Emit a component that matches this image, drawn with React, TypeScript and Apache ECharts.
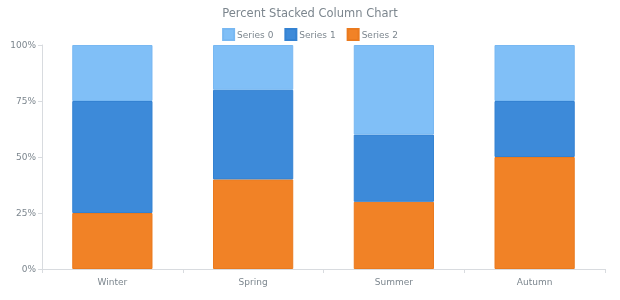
import React, { useEffect, useRef } from "react";
import * as echarts from "echarts";

const categories = ["Winter", "Spring", "Summer", "Autumn"];
const series0 = [25, 20, 40, 25];
const series1 = [50, 40, 30, 25];
const series2 = [25, 40, 30, 50];
const yTicks = [0, 25, 50, 75, 100];

export default function App() {
  const ref = useRef<HTMLDivElement>(null);
  useEffect(() => {
    const chart = echarts.init(ref.current!, null, { renderer: "svg" });
    const font = "DejaVu Sans, Verdana, sans-serif";
    const gray = "#7c868e";
    const mk = (name: string, data: number[], color: string, border: string) => ({
      name,
      type: "bar",
      stack: "total",
      data,
      barWidth: "57%",
      itemStyle: { color, borderColor: border, borderWidth: 1 },
    });
    chart.setOption({
      animation: false,
      title: {
        text: "Percent Stacked Column Chart",
        left: "center",
        top: 2,
        textStyle: { color: gray, fontFamily: font, fontSize: 11.5, fontWeight: "normal" },
      },
      legend: {
        top: 23,
        left: "center",
        data: ["Series 0", "Series 1", "Series 2"],
        itemWidth: 11,
        itemHeight: 11,
        itemGap: 11,
        icon: "rect",
        textStyle: { color: gray, fontFamily: font, fontSize: 9, padding: [0, 0, 0, -2] },
      },
      grid: { left: 42, right: 15, top: 45, bottom: 31, containLabel: false },
      xAxis: {
        type: "category",
        data: categories,
        axisLine: { lineStyle: { color: "#d8dbdf" } },
        axisTick: { show: true, lineStyle: { color: "#d8dbdf" }, length: 4 },
        axisLabel: { color: gray, fontFamily: font, fontSize: 9, margin: 8 },
      },
      yAxis: {
        type: "value",
        min: 0,
        max: 100,
        interval: 25,
        axisLine: { show: true, lineStyle: { color: "#d8dbdf" } },
        axisTick: { show: true, lineStyle: { color: "#d8dbdf" }, length: 4 },
        splitLine: { show: false },
        axisLabel: {
          color: gray,
          fontFamily: font,
          fontSize: 9,
          margin: 6,
          formatter: (v: number) => (yTicks.includes(v) ? v + "%" : ""),
        },
      },
      series: [
        mk("Series 2", series2, "#f18226", "#ea7a1e"),
        mk("Series 1", series1, "#3d8ad9", "#3482d2"),
        mk("Series 0", series0, "#80bff7", "#78b8f2"),
      ],
    });
    return () => chart.dispose();
  }, []);
  return (
    <div
      ref={ref}
      style={{ position: "fixed", left: 0, top: 0, width: 620, height: 300 }}
    />
  );
}
